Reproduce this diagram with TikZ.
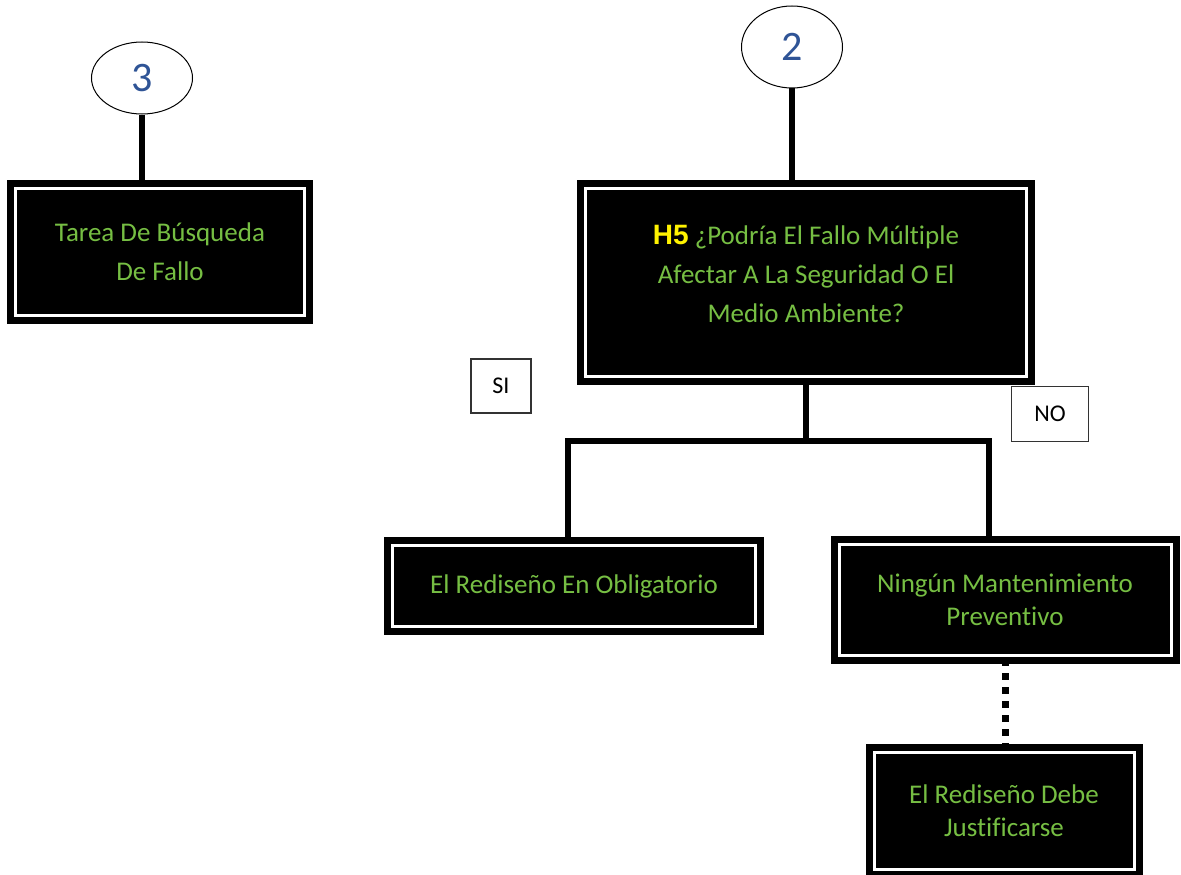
\documentclass[tikz,border=0pt]{standalone}
\usepackage{fontspec}
\setmainfont{Carlito}[Ligatures={NoCommon}]
\newfontfamily\hfont{Liberation Sans}
\usepackage{xcolor}
\usetikzlibrary{shapes.geometric, positioning, backgrounds}
\definecolor{boxgreen}{RGB}{118,190,67}
\definecolor{numblue}{RGB}{47,84,150}

\begin{document}
\begin{tikzpicture}[
    x=1pt, y=-1pt,
    box/.style={rectangle, draw=black, fill=black, line width=7pt, double=white, double distance=3pt, text=boxgreen, align=center, inner sep=0pt, font=\fontsize{27}{33}\selectfont},
    topbox/.style={box, font=\fontsize{27}{39}\selectfont},
    num/.style={ellipse, draw, line width=1pt, minimum width=101pt, text=numblue, font=\fontsize{42}{42}\selectfont},
    tag/.style={rectangle, draw=black!80, line width=1.2pt, inner sep=0pt, font=\fontsize{24}{26}\selectfont},
    link/.style={line width=6.5pt},
    dots/.style={line width=7pt, dash pattern=on 7pt off 7pt}
]
\useasboundingbox (0,0) rectangle (1181,875);

\node[num, minimum height=72pt] (c3) at (142,78) {3};
\node[num, minimum height=82pt] (c2) at (792,47) {2};

\node[topbox, minimum width=289pt, minimum height=127pt] (tarea) at (160,252) {Tarea De Búsqueda\\De Fallo};
\node[topbox, minimum width=441pt, minimum height=188pt, text depth=17pt] (h5) at (806,282) {{\hfont\bfseries\fontsize{28}{39}\selectfont\color{yellow}H5} ¿Podría El Fallo Múltiple\\Afectar A La Seguridad O El\\Medio Ambiente?};

\node[tag, minimum width=60pt, minimum height=54pt] (si) at (501,386) {SI};
\node[tag, minimum width=77pt, minimum height=55pt] (no) at (1050,414) {NO};

\node[box, minimum width=363pt, minimum height=81pt] (obligatorio) at (574,586) {El Rediseño En Obligatorio};
\node[box, minimum width=332pt, minimum height=111pt] (ningun) at (1005,600) {Ningún Mantenimiento\\Preventivo};
\node[box, minimum width=260pt, minimum height=117pt] (justif) at (1004,811) {El Rediseño Debe\\Justificarse};

\coordinate (jl) at (568,441);
\coordinate (jr) at (989,441);

\begin{scope}[on background layer]
\draw[link] (c3.south) -- (c3.south |- tarea.north);
\draw[link] (c2.south) -- (c2.south |- h5.north);
\draw[link] (h5.south) -- (h5.south |- jl);
\draw[link] (obligatorio.north -| jl) -- (jl) -- (jr) -- (jr |- ningun.north);
\draw[dots] (ningun.south) -- (ningun.south |- justif.north);
\end{scope}
\end{tikzpicture}
\end{document}
